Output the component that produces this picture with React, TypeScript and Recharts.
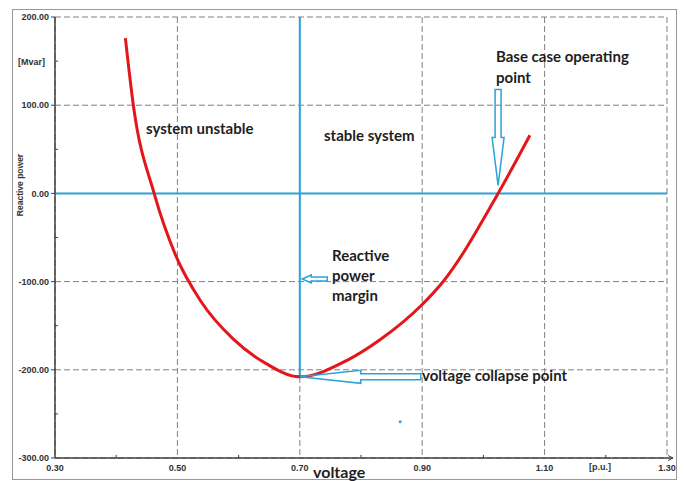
import {
  LineChart,
  Line,
  XAxis,
  YAxis,
  CartesianGrid,
  ReferenceLine,
  ReferenceDot,
} from "recharts";

// P-V / Q-V curve
const voltage = [0.415, 0.428, 0.462, 0.497, 0.538, 0.591, 0.645, 0.699, 0.778, 0.831, 0.9, 0.933, 1.024, 1.076];
const reactive = [176, 100, 0, -70, -122, -165, -193, -208, -189, -166, -126, -101, 0, 66];

const xTicks = [0.3, 0.5, 0.7, 0.9, 1.1, 1.3];
const yTicks = [-300, -200, -100, 0, 100, 200];
const xMinor = [0.4, 0.6, 0.8, 1.0, 1.2];
const yMinor = [150, 50, -50, -150, -250];

const BLUE = "#2ca3d8";
const RED = "#e3161b";
const TXT = "#1e1e1e";
const annoFont = "Lato, 'Open Sans', sans-serif";
const tickFont = "'Liberation Sans', Arial, sans-serif";

const data = voltage.map((v, i) => ({ v, q: reactive[i] }));

// hollow arrow pointing left, tip at (cx, cy)
function leftArrow(head: number, headHalf: number, shaftHalf: number, total: number) {
  // eslint-disable-next-line @typescript-eslint/no-explicit-any
  return (p: any) => {
    const { cx, cy } = p;
    const d = `M${cx},${cy} L${cx + head},${cy - headHalf} L${cx + head},${cy - shaftHalf} L${cx + total},${cy - shaftHalf} L${cx + total},${cy + shaftHalf} L${cx + head},${cy + shaftHalf} L${cx + head},${cy + headHalf} Z`;
    return <path d={d} fill="none" stroke={BLUE} strokeWidth={1.5} />;
  };
}

// eslint-disable-next-line @typescript-eslint/no-explicit-any
const downArrow = (p: any) => {
  const { cx, cy } = p;
  const d = `M${cx},${cy} L${cx - 6},${cy - 48} L${cx - 3},${cy - 48} L${cx - 3},${cy - 96} L${cx + 3},${cy - 96} L${cx + 3},${cy - 48} L${cx + 6},${cy - 48} Z`;
  return <path d={d} fill="none" stroke={BLUE} strokeWidth={1.5} />;
};

const anno = { fontFamily: annoFont, fontWeight: 700, fontSize: 15, fill: TXT };
const axisTxt = { fontFamily: tickFont, fontWeight: 700, fontSize: 9, fill: "#333" };

export default function App() {
  return (
    <div style={{ position: "absolute", left: 0, top: 0, width: 685, height: 481, background: "#fff" }}>
      <LineChart
        width={685}
        height={481}
        data={data}
        margin={{ top: 17, right: 18, bottom: 0, left: 0 }}
      >
        <CartesianGrid stroke="#808080" strokeDasharray="6 3" />
        <XAxis
          dataKey="v"
          type="number"
          domain={[0.3, 1.3]}
          ticks={xTicks}
          height={23}
          tickFormatter={(v) => Number(v).toFixed(2)}
          tick={axisTxt}
          tickLine={false}
          tickMargin={1}
          axisLine={{ stroke: "#404040", strokeWidth: 1.5 }}
        />
        <YAxis
          type="number"
          domain={[-300, 200]}
          ticks={yTicks}
          width={55}
          tickFormatter={(v) => Number(v).toFixed(2)}
          tick={axisTxt}
          tickSize={4}
          tickMargin={2}
          tickLine={{ stroke: "#404040" }}
          axisLine={{ stroke: "#404040", strokeWidth: 1.5 }}
        />
        {xMinor.map((v) => (
          <ReferenceLine key={"mx" + v} segment={[{ x: v, y: -300 }, { x: v, y: -296.5 }]} stroke="#404040" />
        ))}
        {yMinor.map((v) => (
          <ReferenceLine key={"my" + v} segment={[{ x: 0.3, y: v }, { x: 0.305, y: v }]} stroke="#404040" />
        ))}
        <ReferenceLine y={0} stroke={BLUE} strokeWidth={2} />
        <ReferenceLine segment={[{ x: 0.7, y: 200 }, { x: 0.7, y: -208 }]} stroke={BLUE} strokeWidth={2} />
        <Line
          type="monotone"
          dataKey="q"
          stroke={RED}
          strokeWidth={3}
          dot={false}
          isAnimationActive={false}
        />
        <ReferenceDot x={0.704} y={-97} r={1} shape={leftArrow(9, 4, 2, 25)} />
        <ReferenceDot x={0.7} y={-208} r={1} shape={leftArrow(61, 6.5, 3, 121)} />
        <ReferenceDot x={1.024} y={9} r={1} shape={downArrow} />
        <ReferenceDot x={0.864} y={-259} r={1.5} fill={BLUE} stroke="none" />
      </LineChart>
      <svg
        width={685}
        height={481}
        style={{ position: "absolute", left: 0, top: 0, pointerEvents: "none" }}
      >
        <rect x={12.5} y={9.5} width={664} height={470} fill="none" stroke="#999" />
        <path d="M667,458 L673,458" stroke="#404040" strokeWidth={1.5} />
        <path d="M668,455.5 L673,458 L668,460.5" fill="none" stroke="#404040" />
        <text x={18} y={65} {...axisTxt}>[Mvar]</text>
        <text
          x={23}
          y={185}
          textAnchor="middle"
          transform="rotate(-90 23 185)"
          {...axisTxt}
          fontSize={8.5}
        >
          Reactive power
        </text>
        <text x={589} y={470} {...axisTxt}>[p.u.]</text>
        <text x={313} y={478} {...anno} fontSize={16}>voltage</text>
        <text x={146} y={134} {...anno}>system unstable</text>
        <text x={324} y={141} {...anno}>stable system</text>
        <text x={332} y={261} {...anno}>Reactive</text>
        <text x={332} y={281} {...anno}>power</text>
        <text x={332} y={301} {...anno}>margin</text>
        <text x={422} y={381} {...anno}>voltage collapse point</text>
        <text x={496} y={62} {...anno}>Base case operating</text>
        <text x={496} y={83} {...anno}>point</text>
      </svg>
    </div>
  );
}
